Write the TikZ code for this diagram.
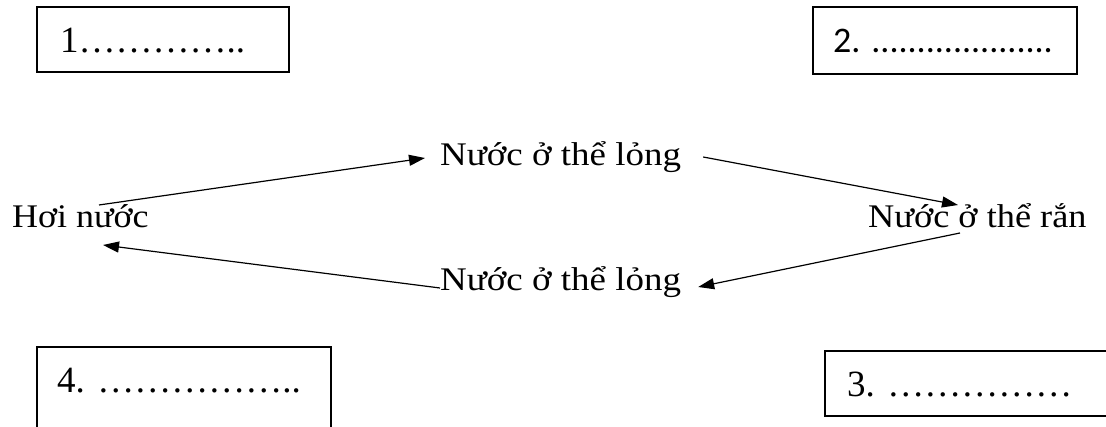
\documentclass[tikz,border=0pt]{standalone}
\usepackage{fontspec}
\setmainfont{Liberation Serif}
\newfontfamily\calfont{Carlito}
\usetikzlibrary{arrows.meta,calc}
\tikzset{
  box/.style={draw,line width=1.5pt},
  boxtext/.style={anchor=base west,inner sep=0pt,font=\fontsize{37}{42}\selectfont},
  lbl/.style={anchor=base west,inner sep=0pt,font=\fontsize{33}{38}\selectfont},
  arr/.style={line width=1.2pt,-{Triangle[length=16pt,width=11pt]}}
}
\begin{document}
\begin{tikzpicture}[x=1pt,y=-1pt]
\useasboundingbox (0,0) rectangle (1106,427);
% boxes
\draw[box] (37,7) rectangle (289,72);
\draw[box] (813,7) rectangle (1077,74);
\draw[box] (331,440) |- (37,347) -- (37,440);
\draw[box] (1120,351) -| (825,416) -- (1120,416);
\node[boxtext] (t1) at (60,53) {1…………..};
\node[boxtext,font=\calfont\fontsize{36}{40}\selectfont] (t2) at (833,53) {2. ....................};
\node[boxtext] (t4) at (57,393) {4. ……………..};
\node[boxtext] (t3) at (847,397) {3. ……………};
% labels
\node[lbl] (hoi) at (12,228) {\scalebox{1.09}[1]{Hơi nước}};
\node[lbl] (top) at (440,166) {\scalebox{1.12}[1]{Nước ở thể lỏng}};
\node[lbl] (ran) at (868,228) {\scalebox{1.1}[1]{Nước ở thể rắn}};
\node[lbl] (bot) at (440,291) {\scalebox{1.12}[1]{Nước ở thể lỏng}};
% arrows
\draw[arr] ($(hoi.base west)+(87,-23)$) -- ($(top.base west)+(-15,-8)$);
\draw[arr] ($(top.base east)+(22,-9)$) -- ($(ran.base west)+(90,-23)$);
\draw[arr] ($(ran.base west)+(92,5)$) -- ($(bot.base east)+(17,-4)$);
\draw[arr] ($(bot.base west)+(0,-3)$) -- ($(hoi.base west)+(91,17)$);
\end{tikzpicture}
\end{document}
